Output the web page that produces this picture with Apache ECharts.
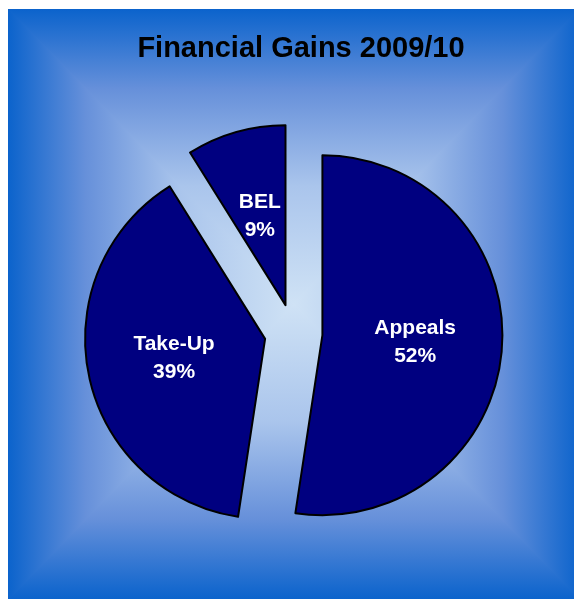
<!DOCTYPE html>
<html>
<head>
<meta charset="utf-8">
<script src="https://cdn.jsdelivr.net/npm/echarts@6/dist/echarts.min.js"></script>
<style>
html,body{margin:0;padding:0;background:#ffffff;}
#chart{width:574px;height:599px;}
</style>
</head>
<body>
<div id="chart"></div>
<script>
var titleText = 'Financial Gains 2009/10';
var categories = ['Appeals', 'Take-Up', 'BEL'];
var values = [52.4, 38.7, 8.9];

var FX0 = 8, FY0 = 9, FX1 = 580, FY1 = 599, CX = 294, CY = 304;
function grad(x, y, x2, y2) {
  return {
    type: 'linear', x: x, y: y, x2: x2, y2: y2, global: true,
    colorStops: [
      {offset: 0, color: '#0b63cc'},
      {offset: 0.27, color: '#6690da'},
      {offset: 0.6, color: '#aac5ec'},
      {offset: 1, color: '#cfe2f5'}
    ]
  };
}
function tri(points, g) {
  return {type: 'polygon', z: -9, silent: true, shape: {points: points},
    style: {fill: g, stroke: g, lineWidth: 2, lineJoin: 'round'}};
}
var chart = echarts.init(document.getElementById('chart'), null, {renderer: 'canvas'});
var option = {
  animation: false,
  graphic: [
    tri([[FX0, FY0], [FX1, FY0], [CX, CY]], grad(0, FY0, 0, CY)),
    tri([[FX0, FY1], [FX1, FY1], [CX, CY]], grad(0, FY1, 0, CY)),
    tri([[FX0, FY0], [FX0, FY1], [CX, CY]], grad(FX0, 0, CX, 0)),
    tri([[FX1, FY0], [FX1, FY1], [CX, CY]], grad(FX1, 0, CX, 0)),
    {type: 'rect', z: -8, silent: true, shape: {x: 0, y: 0, width: FX0, height: 599}, style: {fill: '#ffffff'}},
    {type: 'rect', z: -8, silent: true, shape: {x: 0, y: 0, width: 600, height: FY0}, style: {fill: '#ffffff'}}
  ],
  title: {
    text: titleText,
    left: 296,
    top: 29,
    textAlign: 'center',
    textStyle: {fontFamily: 'Liberation Sans, Arial, sans-serif', fontWeight: 'bold', fontSize: 29, color: '#000000'}
  },
  series: [{
    type: 'pie',
    center: [293.5, 333],
    radius: 180,
    startAngle: 90,
    clockwise: true,
    selectedMode: 'multiple',
    selectedOffset: 29,
    emphasis: {disabled: true},
    itemStyle: {color: '#000080', borderColor: '#000000', borderWidth: 2},
    select: {itemStyle: {color: '#000080', borderColor: '#000000', borderWidth: 2}, label: {show: true}},
    label: {
      show: true,
      position: 'inside',
      formatter: function (p) { return p.name + '\n' + Math.round(p.percent) + '%'; },
      fontFamily: 'Liberation Sans, Arial, sans-serif',
      fontWeight: 'bold',
      fontSize: 21,
      lineHeight: 28,
      color: '#ffffff'
    },
    labelLine: {show: false},
    data: categories.map(function (c, i) { return {name: c, value: values[i], selected: true}; })
  }]
};
chart.setOption(option);
</script>
</body>
</html>
